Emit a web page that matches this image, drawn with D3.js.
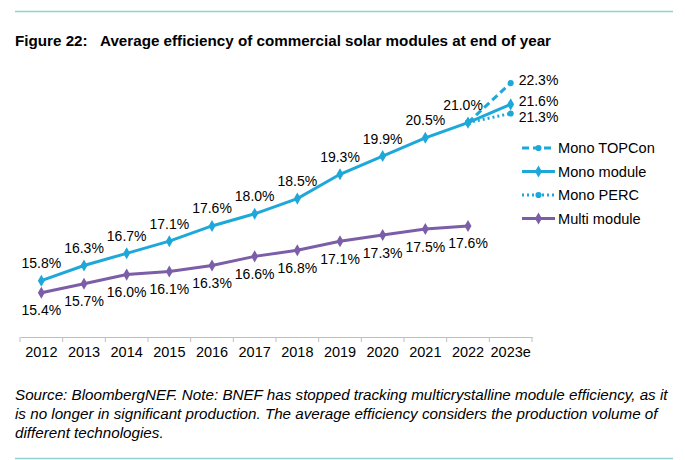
<!DOCTYPE html>
<html><head><meta charset="utf-8">
<script src="https://cdn.jsdelivr.net/npm/d3@7"></script>
<style>
html,body{margin:0;padding:0;background:#fff;}
svg{display:block;font-family:"Liberation Sans",Arial,sans-serif;}
</style></head>
<body>
<svg id="chart" width="685" height="460"></svg>
<script>
const years = ["2012","2013","2014","2015","2016","2017","2018","2019","2020","2021","2022","2023e"];
const monoModule = [15.8,16.3,16.7,17.1,17.6,18.0,18.5,19.3,19.9,20.5,21.0,21.6];
const multiModule = [15.4,15.7,16.0,16.1,16.3,16.6,16.8,17.1,17.3,17.5,17.6];
const monoTOPCon = [{year:"2022",v:21.0},{year:"2023e",v:22.3}];
const monoPERC = [{year:"2022",v:21.0},{year:"2023e",v:21.3}];
const legendLabels = ["Mono TOPCon","Mono module","Mono PERC","Multi module"];
const title1 = "Figure 22:";
const title2 = "Average efficiency of commercial solar modules at end of year";
const footnote = [
 "Source: BloombergNEF. Note: BNEF has stopped tracking multicrystalline module efficiency, as it",
 "is no longer in significant production. The average efficiency considers the production volume of",
 "different technologies."
];

const BLUE = "#1ea8da", PURPLE = "#7b5ea7", RULE = "#8fd2d6";
const svg = d3.select("#chart");

// rules
svg.append("line").attr("x1",15).attr("x2",673).attr("y1",11.5).attr("y2",11.5).attr("stroke",RULE).attr("stroke-width",1.5);
svg.append("line").attr("x1",15).attr("x2",673).attr("y1",458.5).attr("y2",458.5).attr("stroke",RULE).attr("stroke-width",1.5);

// title
const t = svg.append("g").attr("font-weight","bold").attr("font-size",15.2).attr("fill","#000");
t.append("text").attr("x",15).attr("y",46).text(title1);
t.append("text").attr("x",100).attr("y",46).text(title2);

// footnote
svg.append("g").attr("font-style","italic").attr("font-size",15.2).attr("fill","#000")
 .selectAll("text").data(footnote).join("text")
 .attr("x",15).attr("y",(d,i)=>400+i*19).text(d=>d);

const x = d3.scaleBand().domain(years).range([20,532]).padding(0);
const y = d3.scaleLinear().domain([14,23]).range([335.4,61.8]);
const cx = d => x(d)+x.bandwidth()/2;

// axis
const axisY = 337;
const ax = svg.append("g").attr("transform",`translate(0,${axisY})`)
 .call(d3.axisBottom(x).tickSize(0).tickPadding(10));
ax.select(".domain").attr("stroke","#bfbfbf").attr("stroke-width",1);
ax.selectAll("text").attr("font-size",14.5).attr("font-family","Liberation Sans, Arial, sans-serif").attr("fill","#000");
ax.selectAll(".edge").data(years.map(d=>x(d)).concat([x.range()[1]])).join("line")
 .attr("x1",d=>d).attr("x2",d=>d).attr("y1",0).attr("y2",5).attr("stroke","#bfbfbf");

const line = d3.line().x(d=>cx(d.year)).y(d=>y(d.v));
const diamond = d3.symbol().type(d3.symbolDiamond).size(42);
const circle = d3.symbol().type(d3.symbolCircle).size(30);

function series(data, color, dash, useCircle){
  svg.append("path").datum(data).attr("d",line).attr("fill","none")
   .attr("stroke",color).attr("stroke-width",3).attr("stroke-dasharray",dash||null);
  svg.append("g").selectAll("path").data(data).join("path")
   .attr("d", useCircle ? circle : diamond)
   .attr("transform",d=>`translate(${cx(d.year)},${y(d.v)})`).attr("fill",color);
}

const monoData = years.map((yr,i)=>({year:yr,v:monoModule[i]}));
const multiData = multiModule.map((v,i)=>({year:years[i],v}));

series(multiData, PURPLE);
series(monoTOPCon, BLUE, "7,4", true);
series(monoPERC, BLUE, "2,3", true);
series(monoData, BLUE);

// labels
const lab = svg.append("g").attr("font-size",14).attr("fill","#000");
lab.selectAll(".ml").data(monoData.slice(0,11)).join("text")
 .attr("x",d=>cx(d.year) - (d.year==="2022"?5:0)).attr("y",d=>y(d.v)-12.5).attr("text-anchor","middle")
 .text(d=>d.v.toFixed(1)+"%");
lab.selectAll(".ul").data(multiData).join("text")
 .attr("x",d=>cx(d.year)).attr("y",d=>y(d.v)+22.5).attr("text-anchor","middle")
 .text(d=>d.v.toFixed(1)+"%");
const last = [
  {d:monoTOPCon[1], dy:2},
  {d:monoData[11], dy:2},
  {d:monoPERC[1], dy:8.5}
];
lab.selectAll(".ll").data(last).join("text")
 .attr("x",d=>cx(d.d.year)+8).attr("y",d=>y(d.d.v)+d.dy)
 .text(d=>d.d.v.toFixed(1)+"%");

// legend
const leg = svg.append("g").attr("font-size",14.6).attr("fill","#000");
const legItems = [
  {label:legendLabels[0], color:BLUE, dash:"7,4", circle:true},
  {label:legendLabels[1], color:BLUE, dash:null, circle:false},
  {label:legendLabels[2], color:BLUE, dash:"2,3", circle:true},
  {label:legendLabels[3], color:PURPLE, dash:null, circle:false}
];
legItems.forEach((it,i)=>{
  const yy = 148 + i*23.5;
  leg.append("line").attr("x1",522).attr("x2",555).attr("y1",yy).attr("y2",yy)
   .attr("stroke",it.color).attr("stroke-width",3).attr("stroke-dasharray",it.dash);
  leg.append("path").attr("d", it.circle ? circle() : diamond())
   .attr("transform",`translate(538.5,${yy})`).attr("fill",it.color);
  leg.append("text").attr("x",558).attr("y",yy+5).text(it.label);
});
</script>
</body></html>
